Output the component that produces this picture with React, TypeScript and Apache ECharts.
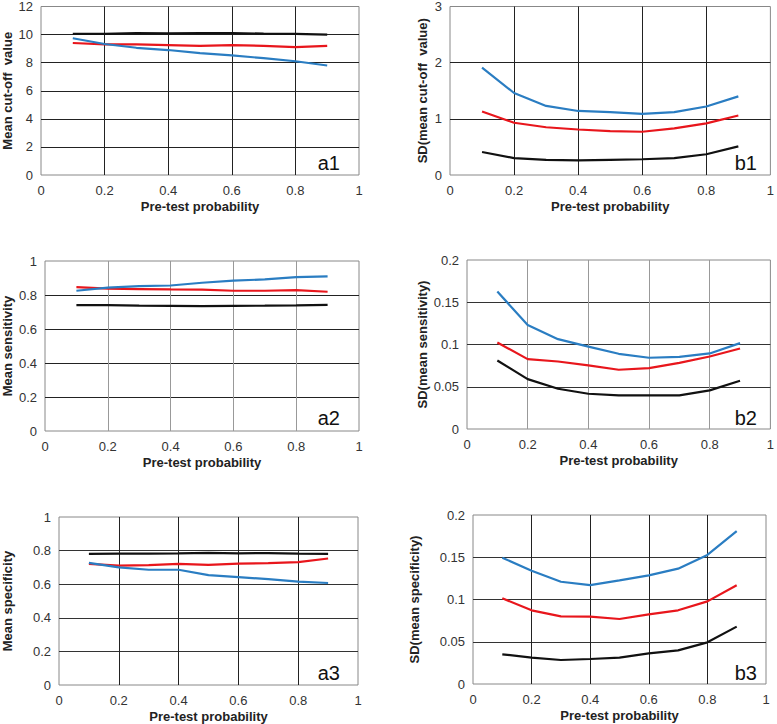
import React, { useEffect, useRef } from "react";
import * as echarts from "echarts";

const xs = [0.1, 0.2, 0.3, 0.4, 0.5, 0.6, 0.7, 0.8, 0.9];
const xTicks = ["0", "0.2", "0.4", "0.6", "0.8", "1"];

const a1Black = [10.05, 10.05, 10.1, 10.08, 10.1, 10.1, 10.07, 10.05, 10.0];
const a1Red = [9.4, 9.3, 9.3, 9.25, 9.2, 9.25, 9.2, 9.1, 9.2];
const a1Blue = [9.74, 9.33, 9.06, 8.9, 8.68, 8.52, 8.32, 8.1, 7.8];

const b1Blue = [1.91, 1.46, 1.23, 1.14, 1.12, 1.09, 1.12, 1.22, 1.4];
const b1Red = [1.13, 0.93, 0.85, 0.81, 0.78, 0.77, 0.83, 0.92, 1.06];
const b1Black = [0.41, 0.3, 0.27, 0.26, 0.27, 0.28, 0.3, 0.37, 0.51];

const a2Blue = [0.825, 0.843, 0.852, 0.856, 0.872, 0.884, 0.892, 0.905, 0.909];
const a2Red = [0.846, 0.837, 0.835, 0.833, 0.832, 0.825, 0.825, 0.829, 0.819];
const a2Black = [0.74, 0.74, 0.737, 0.736, 0.734, 0.736, 0.737, 0.739, 0.742];

const b2Blue = [0.1626, 0.1232, 0.1063, 0.0975, 0.089, 0.0843, 0.0854, 0.0894, 0.1016];
const b2Red = [0.1024, 0.0827, 0.0799, 0.0752, 0.0701, 0.072, 0.0783, 0.0858, 0.0953];
const b2Black = [0.0811, 0.059, 0.0476, 0.0417, 0.0398, 0.0398, 0.0398, 0.0457, 0.0571];

const a3Black = [0.781, 0.782, 0.782, 0.783, 0.787, 0.784, 0.785, 0.782, 0.781];
const a3Red = [0.721, 0.711, 0.714, 0.721, 0.715, 0.723, 0.725, 0.731, 0.753];
const a3Blue = [0.727, 0.7, 0.686, 0.686, 0.654, 0.642, 0.63, 0.615, 0.607];

const b3Blue = [0.1495, 0.134, 0.121, 0.117, 0.1227, 0.1286, 0.1365, 0.1527, 0.181];
const b3Red = [0.1014, 0.0872, 0.08, 0.0797, 0.0769, 0.0824, 0.0872, 0.0978, 0.1168];
const b3Black = [0.0351, 0.0312, 0.0284, 0.0296, 0.0312, 0.0363, 0.0398, 0.0493, 0.0679];

const panelNames = ["a1", "b1", "a2", "b2", "a3", "b3"];
const yNames = [
  "Mean cut-off  value",
  "SD(mean cut-off  value)",
  "Mean sensitivity",
  "SD(mean sensitivity)",
  "Mean specificity",
  "SD(mean specificity)",
];
const xName = "Pre-test probability";
const yMax = [12, 3, 1, 0.2, 1, 0.2];
const yStep = [2, 1, 0.2, 0.05, 0.2, 0.05];
const panelSeries = [
  [a1Black, a1Red, a1Blue],
  [b1Black, b1Red, b1Blue],
  [a2Black, a2Red, a2Blue],
  [b2Black, b2Red, b2Blue],
  [a3Black, a3Red, a3Blue],
  [b3Black, b3Red, b3Blue],
];

// layout (pixels)
const grids = [
  { left: 40, top: 5, width: 319, height: 170 },
  { left: 450, top: 5, width: 325, height: 170 },
  { left: 44, top: 261, width: 315, height: 170 },
  { left: 467, top: 260, width: 308, height: 169 },
  { left: 58, top: 517, width: 300, height: 169 },
  { left: 473, top: 515, width: 293, height: 169 },
];
const yNameGaps = [27, 21, 31, 38, 45, 52];
const vGridColor = ["#222", "#222", "#999", "#999", "#222", "#222"];
const hGridColor = ["#222", "#222", "#222", "#333", "#333", "#333"];
const labelPos = [
  { right: 340, y: 163 },
  { right: 757, y: 163 },
  { right: 340, y: 418 },
  { right: 757, y: 418 },
  { right: 340, y: 673 },
  { right: 757, y: 673 },
];
const seriesColors = ["#111111", "#E8161C", "#2A7DC2"];

const fmt = (v: number) => String(parseFloat(v.toFixed(3)));

export default function App() {
  const ref = useRef<HTMLDivElement>(null);
  useEffect(() => {
    if (!ref.current) return;
    const chart = echarts.init(ref.current, undefined, { renderer: "svg" });
    const font = "'Liberation Sans', Arial, sans-serif";
    const option: any = {
      animation: false,
      backgroundColor: "#fff",
      textStyle: { fontFamily: font },
      grid: grids.map((g) => ({
        ...g,
        show: true,
        borderColor: "#888",
        borderWidth: 1,
        containLabel: false,
      })),
      xAxis: grids.map((_, i) => ({
        type: "value",
        gridIndex: i,
        min: 0,
        max: 1,
        interval: 0.2,
        name: xName,
        nameLocation: "middle",
        nameGap: 25,
        nameTextStyle: { fontFamily: font, fontSize: 13, fontWeight: "bold", color: "#222" },
        axisLine: { show: false },
        axisTick: { show: false },
        axisLabel: {
          fontFamily: font,
          fontSize: 13,
          color: "#333",
          margin: 9,
          formatter: (v: number) => xTicks[Math.round(v / 0.2)] ?? fmt(v),
        },
        splitLine: {
          show: true,
          showMinLine: false,
          showMaxLine: false,
          lineStyle: { color: vGridColor[i], width: 1 },
        },
      })),
      yAxis: grids.map((_, i) => ({
        type: "value",
        gridIndex: i,
        min: 0,
        max: yMax[i],
        interval: yStep[i],
        name: yNames[i],
        nameLocation: "middle",
        nameGap: yNameGaps[i],
        nameTextStyle: { fontFamily: font, fontSize: 13, fontWeight: "bold", color: "#222" },
        axisLine: { show: false },
        axisTick: { show: false },
        axisLabel: { fontFamily: font, fontSize: 13, color: "#333", margin: 8, formatter: fmt },
        splitLine: {
          show: true,
          showMinLine: false,
          showMaxLine: false,
          lineStyle: { color: hGridColor[i], width: 1 },
        },
      })),
      series: panelSeries.flatMap((arrs, i) =>
        arrs.map((vals, k) => ({
          type: "line",
          xAxisIndex: i,
          yAxisIndex: i,
          data: xs.map((x, j) => [x, vals[j]]),
          showSymbol: false,
          symbol: "none",
          lineStyle: { color: seriesColors[k], width: 2.2 },
          itemStyle: { color: seriesColors[k] },
          z: 3,
        }))
      ),
      graphic: panelNames.map((name, i) => ({
        type: "text",
        x: labelPos[i].right,
        y: labelPos[i].y,
        style: {
          text: name,
          fontFamily: font,
          fontSize: 20,
          fill: "#111",
          textAlign: "right",
          textVerticalAlign: "middle",
        },
        z: 10,
      })),
    };
    chart.setOption(option);
    return () => chart.dispose();
  }, []);
  return (
    <div
      ref={ref}
      style={{ position: "fixed", left: 0, top: 0, width: 777, height: 724, background: "#fff" }}
    />
  );
}
